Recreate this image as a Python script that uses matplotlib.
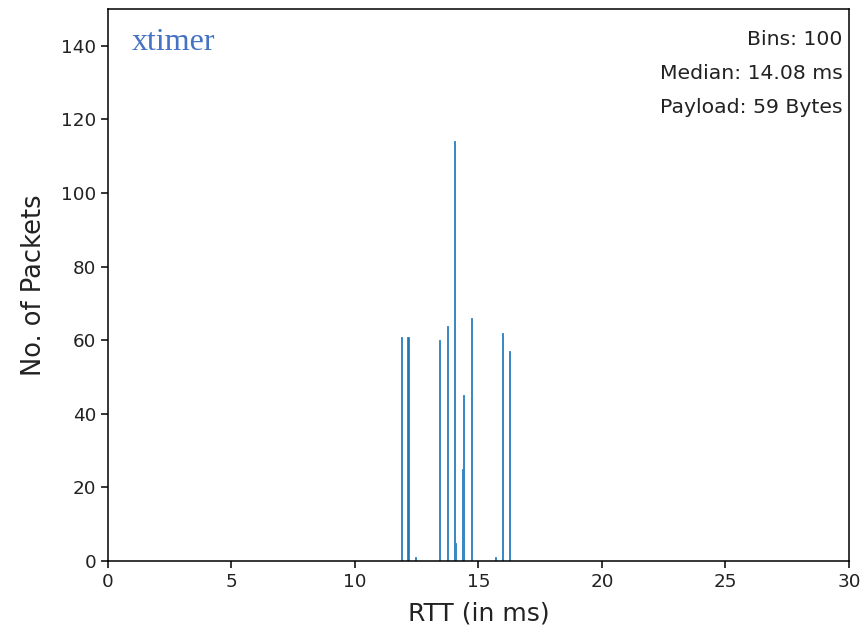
import matplotlib
matplotlib.use('Agg')
import matplotlib.pyplot as plt
import numpy as np

# RTT samples grouped by value (ms) and how many packets had each
rtt_ms = [11.86, 12.16, 12.45, 13.44, 13.73, 14.03, 14.08, 14.33, 14.39, 14.69, 15.66, 15.97, 16.27]
packets = [61, 61, 1, 60, 64, 114, 5, 25, 45, 66, 1, 62, 57]

n_bins = 100
median_ms = 14.08
payload_bytes = 59

fig = plt.figure(figsize=(8.64, 6.35), dpi=100)
ax = fig.add_axes([0.125, 0.1165, 0.8576, 0.8693])

rtt = np.array(rtt_ms)
ax.hist(rtt, bins=n_bins, weights=packets, range=(rtt.min(), rtt.max()),
        color='#1f77b4', edgecolor='#3a88c4', linewidth=0.7)

ax.set_xlim(0, 30)
ax.set_ylim(0, 150)
ax.set_xticks(range(0, 31, 5))
ax.set_yticks(range(0, 141, 20))
ax.tick_params(labelsize=13.2, length=4.8, width=1.1, labelcolor='#222222')
for s in ax.spines.values():
    s.set_linewidth(1.1)

ax.set_xlabel('RTT (in ms)', fontsize=18, labelpad=8, color='#222222')
ax.set_ylabel('No. of Packets', fontsize=18.5, labelpad=10, color='#222222')

ax.text(0.032, 0.94, 'xtimer', transform=ax.transAxes, family='Liberation Serif',
        fontsize=23, color='#4472C4', va='center', ha='left')

ax.text(0.991, 0.944, 'Bins: %d' % n_bins, transform=ax.transAxes, fontsize=14.7,
        ha='right', va='center', color='#222222')
ax.text(0.991, 0.883, 'Median: %.2f ms' % median_ms, transform=ax.transAxes, fontsize=14.7,
        ha='right', va='center', color='#222222')
ax.text(0.991, 0.821, 'Payload: %d Bytes' % payload_bytes, transform=ax.transAxes, fontsize=14.7,
        ha='right', va='center', color='#222222')

fig.savefig('out.png', dpi=100)
